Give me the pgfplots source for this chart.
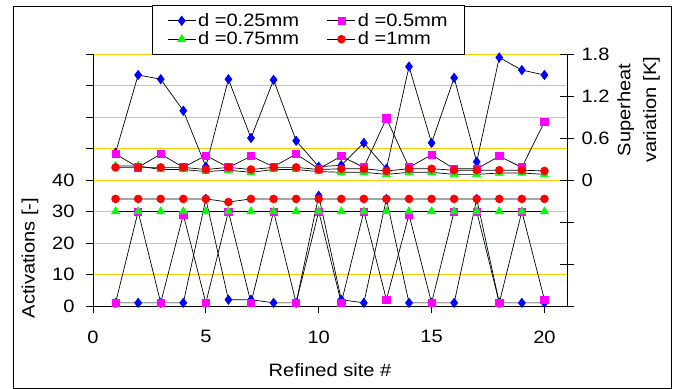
\documentclass[border=0pt]{standalone}
\usepackage{fontspec}
\setmainfont{Liberation Sans}[FakeStretch=1.12]
\usepackage{pgfplots}
\pgfplotsset{compat=1.18}
\definecolor{gridgold}{RGB}{255,204,0}
\definecolor{mblue}{RGB}{0,0,255}
\definecolor{mmag}{RGB}{255,0,255}
\definecolor{mgreen}{RGB}{0,255,0}
\definecolor{mred}{RGB}{255,0,0}
\newcommand{\lf}{\fontsize{18}{21}\selectfont}
\pgfplotsset{
  common/.style={
    scale only axis, width=474bp, height=252bp,
    xmin=0, xmax=21, clip=false,
    tick label style={font=\lf},
    label style={font=\lf},
    axis line style={-, black, line width=0.8bp},
    major tick style={black, line width=0.8bp},
    /pgf/number format/assume math mode=true,
  },
  s1/.style={black, line width=0.7bp, mark=diamond*, mark size=4.6bp, mark options={draw=mblue, fill=mblue}},
  s2/.style={black, line width=0.7bp, mark=square*, mark size=3.6bp, mark options={draw=mmag, fill=mmag}},
  s3/.style={black, line width=0.7bp, mark=triangle*, mark size=4.6bp, mark options={draw=mgreen, fill=mgreen}},
  s4/.style={black, line width=0.7bp, mark=*, mark size=3.9bp, mark options={draw=mred, fill=mred}},
}
\begin{document}
\begin{tikzpicture}
\useasboundingbox (-93bp,-83bp) rectangle (586bp,306bp);
\draw[black, line width=0.8bp] (-80bp,-82bp) rectangle (578bp,300bp);
\begin{axis}[common,
  axis x line*=bottom, axis y line*=left,
  ymin=0, ymax=80,
  ytick={0,10,20,30,40,50,60,70,80},
  yticklabels={0,10,20,30,40,,,,},
  xtick={0,5,10,15,20},
  xticklabels={0,5,10,15,20},
  yticklabel style={xshift=-8bp},
  xticklabel style={yshift=-14bp},
  tick align=outside, major tick length=7bp,
  ymajorgrids, grid style={gridgold, line width=0.9bp},
  legend columns=2, legend cell align=left,
  legend style={at={(axis description cs:0.1245,1.194)}, anchor=north west,
    draw=black, line width=0.8bp, font=\lf, inner xsep=15bp, inner ysep=6bp,
    row sep=0bp,
    /tikz/every even column/.append style={column sep=26bp}},
  legend image code/.code={\draw[mark repeat=2,mark phase=2,#1] plot coordinates {(0bp,0bp) (14bp,0bp) (28bp,0bp)};},
]
\addplot[s1] coordinates {(1,1)(2,1)(3,1)(4,1)(5,34)(6,2)(7,2)(8,1)(9,1)(10,35)(11,2)(12,1)(13,34)(14,1)(15,1)(16,1)(17,34)(18,1)(19,1)(20,1)};
\addlegendentry{d =0.25mm}
\addplot[s2] coordinates {(1,1)(2,30)(3,1)(4,29)(5,1)(6,30)(7,1)(8,30)(9,1)(10,30)(11,1)(12,30)(13,2)(14,29)(15,1)(16,30)(17,30)(18,1)(19,30)(20,2)};
\addlegendentry{d =0.5mm\hspace{6bp}}
\addplot[s3] coordinates {(1,30)(2,30)(3,30)(4,30)(5,30)(6,30)(7,30)(8,30)(9,30)(10,30)(11,30)(12,30)(13,30)(14,30)(15,30)(16,30)(17,30)(18,30)(19,30)(20,30)};
\addlegendentry{d =0.75mm}
\addplot[s4] coordinates {(1,34)(2,34)(3,34)(4,34)(5,34)(6,33)(7,34)(8,34)(9,34)(10,34)(11,34)(12,34)(13,34)(14,34)(15,34)(16,34)(17,34)(18,34)(19,34)(20,34)};
\addlegendentry{d =1mm}
\node[rotate=90, font=\lf] at (axis description cs:-0.133,0.19) {Activations [-]};
\node[font=\lf] at (axis description cs:0.5,-0.254) {Refined site \#};
\end{axis}
\begin{axis}[common,
  axis y line*=right, axis x line=none,
  ymin=-1.8, ymax=1.8,
  ytick={-1.8,-1.2,-0.6,0,0.6,1.2,1.8},
  yticklabels={,,,0,0.6,1.2,1.8},
  yticklabel style={xshift=4bp},
  tick align=center, major tick length=14bp,
]
\addplot[s1] coordinates {(1,0.39)(2,1.5)(3,1.44)(4,0.99)(5,0.19)(6,1.44)(7,0.6)(8,1.43)(9,0.56)(10,0.19)(11,0.21)(12,0.53)(13,0.16)(14,1.62)(15,0.53)(16,1.46)(17,0.26)(18,1.75)(19,1.57)(20,1.5)};
\addplot[s2] coordinates {(1,0.37)(2,0.18)(3,0.37)(4,0.18)(5,0.35)(6,0.18)(7,0.34)(8,0.19)(9,0.37)(10,0.16)(11,0.34)(12,0.18)(13,0.88)(14,0.18)(15,0.36)(16,0.16)(17,0.16)(18,0.34)(19,0.18)(20,0.83)};
\addplot[s3] coordinates {(1,0.2)(2,0.2)(3,0.15)(4,0.15)(5,0.12)(6,0.14)(7,0.11)(8,0.15)(9,0.15)(10,0.12)(11,0.11)(12,0.11)(13,0.08)(14,0.11)(15,0.11)(16,0.08)(17,0.08)(18,0.1)(19,0.1)(20,0.08)};
\addplot[s4] coordinates {(1,0.18)(2,0.18)(3,0.18)(4,0.18)(5,0.15)(6,0.18)(7,0.15)(8,0.18)(9,0.18)(10,0.15)(11,0.16)(12,0.16)(13,0.13)(14,0.16)(15,0.16)(16,0.14)(17,0.14)(18,0.14)(19,0.14)(20,0.13)};
\node[rotate=90, font=\fontsize{18}{26}\selectfont, align=center] at (axis description cs:1.151,0.778) {Superheat\\variation [K]};
\end{axis}
\end{tikzpicture}
\end{document}
